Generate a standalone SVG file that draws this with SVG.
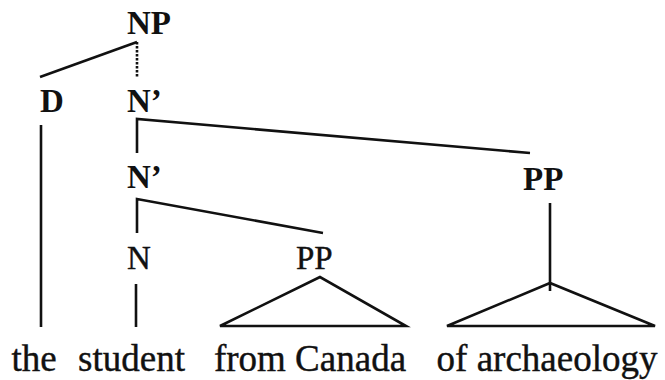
<svg xmlns="http://www.w3.org/2000/svg" width="665" height="380" viewBox="0 0 665 380">
<style>
.lbl{font-family:'Liberation Serif','DejaVu Serif',serif;font-size:33px;fill:#111;font-weight:bold}
.reg{font-weight:normal;stroke:#111;stroke-width:0.4}
.word{font-family:'Liberation Serif','DejaVu Serif',serif;font-size:37px;fill:#111;stroke:#111;stroke-width:0.4;text-anchor:middle}
.e{stroke:#111;stroke-width:2.6;fill:none;stroke-linejoin:miter}
</style>
<rect width="665" height="380" fill="#fff"/>
<g id="connectors">
<line class="e" x1="40" y1="77" x2="137" y2="42"/>
<line class="e" x1="137" y1="42" x2="137" y2="77" stroke-dasharray="2.5,1.5"/>
<line class="e" x1="41" y1="125" x2="41" y2="327"/>
<polyline class="e" points="137,153 137,119 530,153"/>
<polyline class="e" points="137,233 137,199 323,233"/>
<line class="e" x1="136" y1="284" x2="136" y2="327"/>
<line class="e" x1="550" y1="203" x2="550" y2="291"/>
</g>
<g id="NP"><text class="lbl" x="127" y="34">NP</text></g>
<g id="D"><text class="lbl" x="40" y="112">D</text></g>
<g id="Nbar1"><text class="lbl" x="127" y="112">N’</text></g>
<g id="Nbar2"><text class="lbl" x="127" y="188">N’</text></g>
<g id="PP2"><text class="lbl" x="523" y="190">PP</text></g>
<g id="N"><text class="lbl reg" x="127" y="269">N</text></g>
<g id="PP1"><text class="lbl reg" x="296" y="269">PP</text></g>
<g id="tri1"><polygon class="e" points="320,277 220,326 406,326"/></g>
<g id="tri2"><polygon class="e" points="550,283 447,326 655,326"/></g>
<g id="words">
<text class="word" x="34" y="371">the</text>
<text class="word" x="131.5" y="371">student</text>
<text class="word" x="310" y="371">from Canada</text>
<text class="word" x="547" y="371">of archaeology</text>
</g>
</svg>
